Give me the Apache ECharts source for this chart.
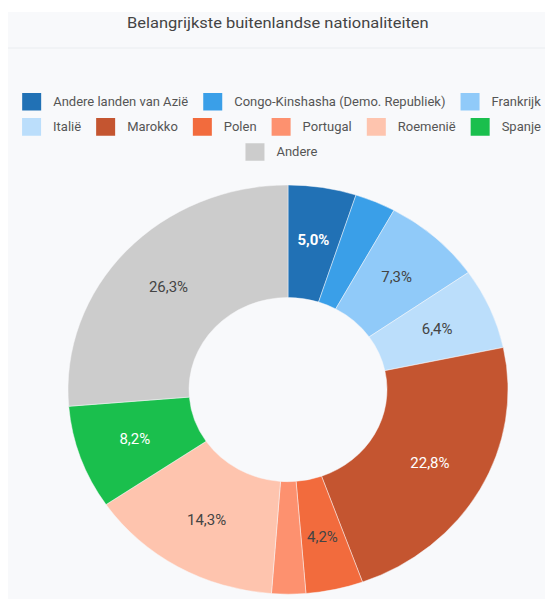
<!DOCTYPE html>
<html>
<head>
<meta charset="utf-8">
<title>Belangrijkste buitenlandse nationaliteiten</title>
<script src="https://cdn.jsdelivr.net/npm/echarts@6/dist/echarts.min.js"></script>
<style>
  html, body { margin: 0; padding: 0; background: #fff; overflow: hidden; width: 545px; height: 599px; }
  /* the reference is slightly squeezed vertically, so the chart is too */
  #nationaliteiten_chart {
    position: absolute; left: 8px; top: 12px; width: 545px; height: 632px;
    background: #f8f9fb;
    transform: scaleY(0.93); transform-origin: 0 0;
  }
</style>
</head>
<body>
<div id="nationaliteiten_chart"></div>
<script>
// nationaliteiten (aandeel in %)
var categories = ['Andere landen van Azië', 'Congo-Kinshasha (Demo. Republiek)', 'Frankrijk', 'Italië', 'Marokko', 'Polen', 'Portugal', 'Roemenië', 'Spanje', 'Andere'];
var shares = [5.0, 3.0, 7.3, 6.4, 22.8, 4.2, 2.5, 14.3, 8.2, 26.3];
var sliceColors = ['#2171b5', '#3a9fe8', '#90caf9', '#bbdefb', '#c45530', '#f26b3d', '#fd916f', '#fec4ae', '#1abf4d', '#cccccc'];
var labelColors = ['#fff', '#444', '#444', '#444', '#fff', '#444', '#444', '#444', '#fff', '#444'];
var legendRow1 = ['Andere landen van Azië', 'Congo-Kinshasha (Demo. Republiek)', 'Frankrijk'];
var legendRow2 = ['Italië', 'Marokko', 'Polen', 'Portugal', 'Roemenië', 'Spanje'];
var legendRow3 = ['Andere'];

var domNat = document.getElementById('nationaliteiten_chart');
var myChartNat = echarts.init(domNat, null, {
  renderer: 'svg',
  useDirtyRect: false
});

var pieData = categories.map(function (name, i) {
  return {
    name: name,
    value: shares[i],
    itemStyle: { color: sliceColors[i] },
    label: {
      color: labelColors[i],
      fontWeight: i === 0 ? 'bold' : 'normal'
    }
  };
});

// elke legendarij apart, zodat iedere rij gecentreerd staat
function legendRow(names, top) {
  return {
    data: names,
    left: 'center',
    top: top,
    width: 800,
    itemWidth: 21,
    itemHeight: 21,
    itemGap: 13,
    icon: 'rect',
    selectedMode: false,
    textStyle: {
      fontFamily: 'Roboto',
      fontSize: 13,
      color: '#555',
      padding: [0, 0, 0, 6]
    }
  };
}

var optionNat = {
  title: {
    text: 'Belangrijkste buitenlandse nationaliteiten',
    left: 119,
    top: 3,
    padding: 0,
    textStyle: {
      fontFamily: 'Roboto',
      fontSize: 16.5,
      fontWeight: 'normal',
      color: '#444'
    }
  },
  graphic: [
    {
      type: 'line',
      shape: { x1: 0, y1: 38.7, x2: 545, y2: 38.7 },
      style: { stroke: '#eaecef', lineWidth: 1 }
    }
  ],
  legend: [
    legendRow(legendRow1, 80),
    legendRow(legendRow2, 107),
    legendRow(legendRow3, 134)
  ],
  series: [
    {
      type: 'pie',
      center: [280, 406],
      radius: [99, 220],
      startAngle: 90,
      clockwise: true,
      avoidLabelOverlap: false,
      itemStyle: {
        borderColor: '#f8f9fb',
        borderWidth: 0.5
      },
      label: {
        show: true,
        position: 'inside',
        fontFamily: 'Roboto',
        fontSize: 15,
        formatter: function (p) {
          if (p.value < 4) return '';
          return p.value.toFixed(1).replace('.', ',') + '%';
        }
      },
      labelLine: { show: false },
      emphasis: { scale: false },
      data: pieData
    }
  ]
};

if (optionNat && typeof optionNat === 'object') {
  myChartNat.setOption(optionNat);
}

window.addEventListener('resize', myChartNat.resize);
</script>
</body>
</html>
